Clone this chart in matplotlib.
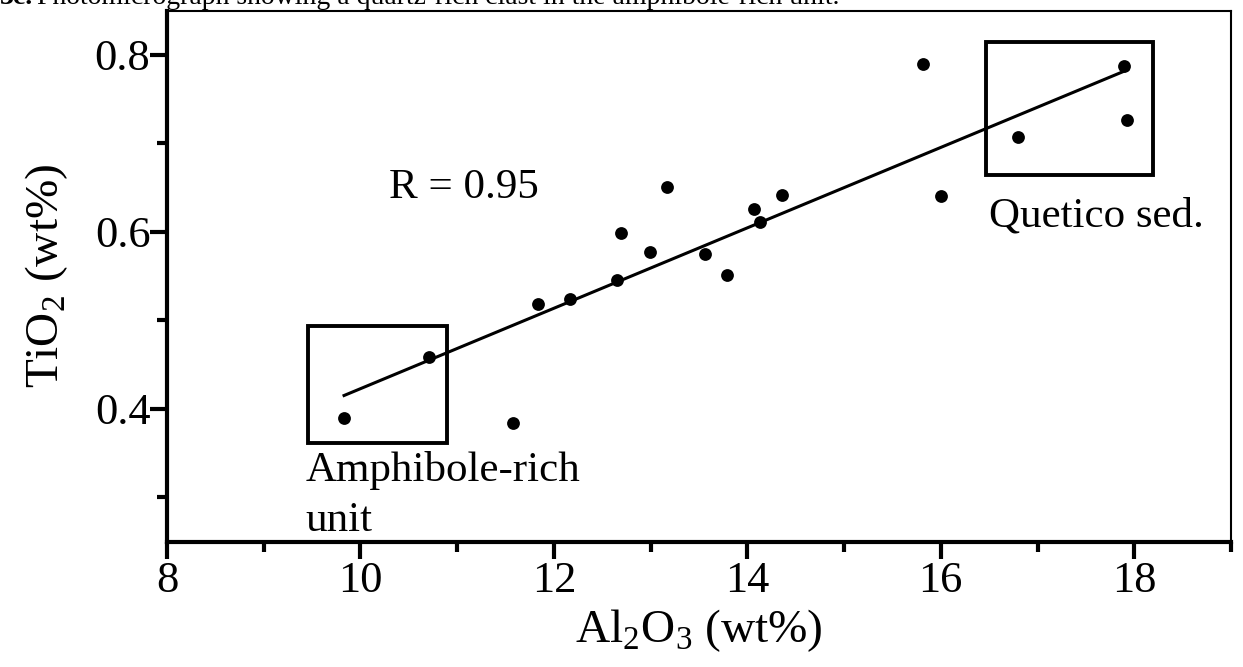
import numpy as np
import matplotlib
matplotlib.use("Agg")
import matplotlib.pyplot as plt
from matplotlib.patches import Rectangle
from matplotlib.ticker import MultipleLocator

plt.rcParams['font.family'] = ['Liberation Serif', 'DejaVu Serif']
plt.rcParams['mathtext.fontset'] = 'custom'
plt.rcParams['mathtext.rm'] = 'Liberation Serif'

# data
al2o3 = [9.83, 10.71, 11.58, 11.84, 12.17, 12.65, 12.69, 12.99, 13.17, 13.56,
         13.79, 14.07, 14.13, 14.36, 15.82, 16.00, 16.80, 17.89, 17.93]
tio2 = [0.390, 0.459, 0.384, 0.518, 0.524, 0.546, 0.599, 0.577, 0.651, 0.575,
        0.551, 0.626, 0.611, 0.642, 0.790, 0.641, 0.707, 0.788, 0.726]

xticks = [8, 10, 12, 14, 16, 18]
yticks = [0.4, 0.6, 0.8]

# boxes around the two end members: (x0, y0, width, height)
amph_box = (9.46, 0.362, 1.43, 0.132)
quet_box = (16.47, 0.664, 1.72, 0.151)

fig_no = "3c."
caption = "Photomicrograph showing a quartz-rich clast in the amphibole-rich unit."

fig = plt.figure(figsize=(12.43, 6.67), dpi=100)
ax = fig.add_axes([0.1344, 0.1879, 0.8559, 0.7961])

x = np.array(al2o3)
y = np.array(tio2)
ax.scatter(x, y, s=85, color='black', zorder=3, linewidths=0)

# least squares line across the data range
m, b = np.polyfit(x, y, 1)
xl = np.array([x.min(), x.max()])
ax.plot(xl, m * xl + b, color='black', lw=2.2)

for bx in (amph_box, quet_box):
    ax.add_patch(Rectangle((bx[0], bx[1]), bx[2], bx[3], fill=False,
                           edgecolor='black', lw=2.8))

ax.text(10.29, 0.638, "R = 0.95", fontsize=31, va='baseline')
ax.text(9.43, 0.319, "Amphibole-rich", fontsize=31, va='baseline')
ax.text(9.43, 0.262, "unit", fontsize=31, va='baseline')
ax.text(16.50, 0.606, "Quetico sed.", fontsize=31, va='baseline')

ax.set_xlim(8, 19)
ax.set_ylim(0.25, 0.85)
ax.set_xticks(xticks)
ax.set_yticks(yticks)
ax.set_xticklabels([str(t) for t in xticks])
ax.set_yticklabels([f"{t:.1f}" for t in yticks])
ax.xaxis.set_minor_locator(MultipleLocator(1))
ax.yaxis.set_minor_locator(MultipleLocator(0.1))
ax.tick_params(which='major', length=12, width=3, labelsize=32, pad=2)
ax.tick_params(which='minor', length=7, width=3)
ax.tick_params(axis='y', pad=0)

for s in ['left', 'bottom']:
    ax.spines[s].set_linewidth(3)
for s in ['top', 'right']:
    ax.spines[s].set_linewidth(1.5)

ax.set_xlabel(r"Al$_\mathrm{2}$O$_\mathrm{3}$ (wt%)", fontsize=34, labelpad=4)
ax.set_ylabel(r"TiO$_\mathrm{2}$ (wt%)", fontsize=34, labelpad=18)

# caption of the source page, clipped by the top edge like the original
fig.text(0.0, 0.994, fig_no, fontsize=20, va='baseline', ha='left', weight='bold')
fig.text(0.030, 0.994, caption, fontsize=20, va='baseline', ha='left')

fig.savefig("out.png", dpi=100)
